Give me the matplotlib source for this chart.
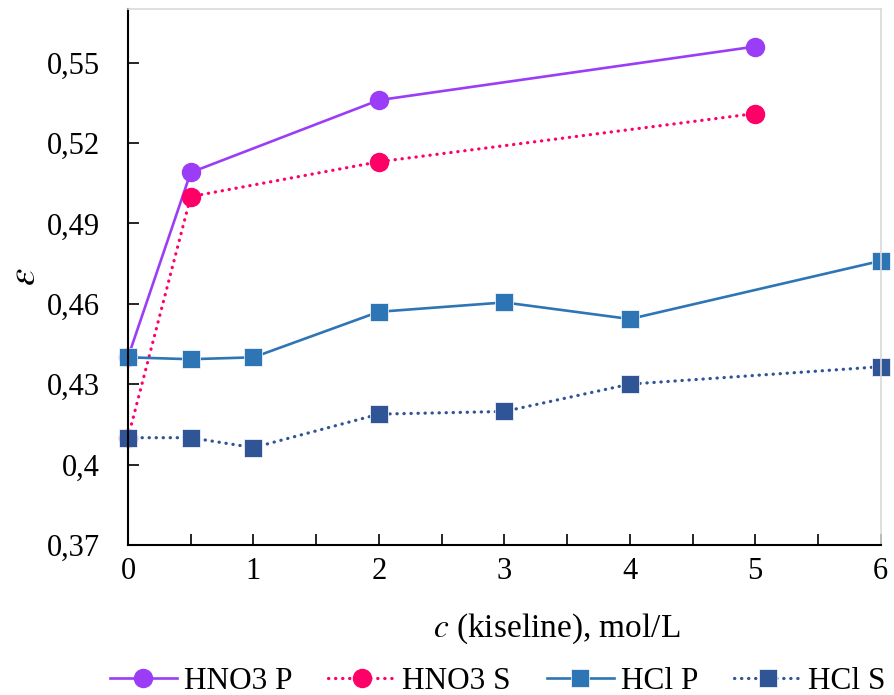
import numpy as np
import matplotlib
matplotlib.use("Agg")
import matplotlib.pyplot as plt
from matplotlib.ticker import FuncFormatter, MultipleLocator

plt.rcParams['font.family'] = ['Liberation Serif', 'DejaVu Serif']
plt.rcParams['mathtext.fontset'] = 'stix'

# --- data ---
x_hno3 = [0, 0.5, 2, 5]
hno3_p = [0.440, 0.509, 0.536, 0.556]
hno3_s = [0.410, 0.500, 0.513, 0.531]

x_hcl = [0, 0.5, 1, 2, 3, 4, 6]
hcl_p = [0.440, 0.4393, 0.440, 0.457, 0.4605, 0.4543, 0.476]
hcl_s = [0.410, 0.410, 0.4063, 0.4188, 0.4198, 0.430, 0.4365]

y_ticks = [0.37, 0.40, 0.43, 0.46, 0.49, 0.52, 0.55]

c_purple = "#9B3DF7"
c_pink = "#FF0066"
c_blue = "#2E75B6"
c_dblue = "#2F5597"

fs = 22
dots = (0, (0.1, 2.1))

fig = plt.figure(figsize=(8.95, 6.95), dpi=100)
ax = fig.add_axes([0.143, 0.216, 0.841, 0.771])

ax.plot(x_hno3, hno3_p, color=c_purple, lw=1.9, marker='o', ms=13,
        clip_on=False, label="HNO3 P")
ax.plot(x_hno3, hno3_s, color=c_pink, lw=2.3, linestyle=dots,
        dash_capstyle='round', marker='o', ms=13, clip_on=False,
        label="HNO3 S")
ax.plot(x_hcl, hcl_p, color=c_blue, lw=1.9, marker='s', ms=13,
        mec='white', mew=0.5, clip_on=False, label="HCl P")
ax.plot(x_hcl, hcl_s, color=c_dblue, lw=2.3, linestyle=dots,
        dash_capstyle='round', marker='s', ms=13, mec='white', mew=0.5,
        clip_on=False, label="HCl S")

ax.set_xlim(0, 6)
ax.set_ylim(0.37, 0.57)
ax.set_yticks(y_ticks)
ax.xaxis.set_major_locator(MultipleLocator(1))
ax.xaxis.set_minor_locator(MultipleLocator(0.5))
ax.yaxis.set_major_formatter(FuncFormatter(
    lambda v, p: f"{v:.2f}".rstrip('0').replace('.', ',')))

ax.tick_params(axis='both', which='both', direction='in', labelsize=fs,
               width=1.2, color='black')
ax.tick_params(axis='x', which='major', length=8, pad=9)
ax.tick_params(axis='x', which='minor', length=8)
ax.tick_params(axis='y', length=8, pad=20)

for s in ['top', 'right']:
    ax.spines[s].set_color('#d9d9d9')
    ax.spines[s].set_linewidth(1.2)
for s in ['left', 'bottom']:
    ax.spines[s].set_color('black')
    ax.spines[s].set_linewidth(1.5)

ax.set_xlabel(r"$c$ (kiseline), mol/L", fontsize=fs + 2, labelpad=18)
ax.xaxis.label.set_x(0.57)
ax.set_ylabel(r"$\varepsilon$", fontsize=fs + 6, labelpad=2)

fig.legend(loc='center', bbox_to_anchor=(0.556, 0.019), ncol=4,
           frameon=False, fontsize=fs + 0.5, handlelength=2.15,
           columnspacing=1.15, handletextpad=0.22, borderpad=0.1)

fig.savefig("out.png", dpi=100)
